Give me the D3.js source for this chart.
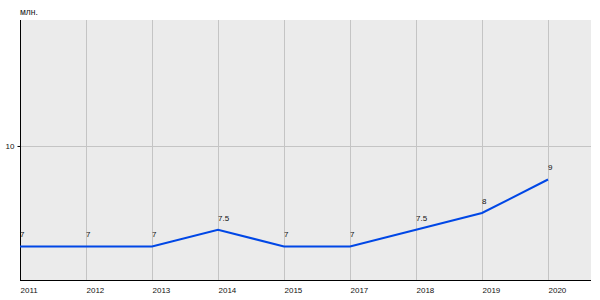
<!DOCTYPE html>
<html>
<head>
<meta charset="utf-8">
<script src="https://cdn.jsdelivr.net/npm/d3@7"></script>
<style>
  body { margin: 0; background: #fff; }
  svg { display: block; font-family: "Liberation Sans", Arial, sans-serif; }
</style>
</head>
<body>
<svg id="chart"></svg>
<script>
// chart data
const years = ['2011', '2012', '2013', '2014', '2015', '2017', '2018', '2019', '2020'];
const values = [7, 7, 7, 7.5, 7, 7, 7.5, 8, 9];
const valueLabels = ['7', '7', '7', '7.5', '7', '7', '7.5', '8', '9'];
const yTicks = [10];
const unitLabel = 'млн.';

const width = 600;
const height = 300;
const plot = { left: 20, right: 591, top: 20, bottom: 280 };
const textColor = '#111';

const svg = d3.select('#chart')
  .attr('width', width)
  .attr('height', height);

// x: points every 66px starting at left edge
const xScale = d3.scalePoint()
  .domain(years)
  .range([plot.left, plot.left + 66 * (years.length - 1)]);

const yScale = d3.scaleLinear()
  .domain([6, 13.76])
  .range([plot.bottom, plot.top]);

// background
svg.append('rect')
  .attr('x', plot.left)
  .attr('y', plot.top)
  .attr('width', plot.right - plot.left)
  .attr('height', plot.bottom - plot.top)
  .attr('fill', '#ebebeb');

// vertical grid
svg.append('g')
  .selectAll('line')
  .data(years.slice(1))
  .join('line')
  .attr('x1', (d) => Math.round(xScale(d)) + 0.5)
  .attr('x2', (d) => Math.round(xScale(d)) + 0.5)
  .attr('y1', plot.top)
  .attr('y2', plot.bottom)
  .attr('stroke', '#c4c4c4')
  .attr('stroke-width', 1);

// horizontal grid
svg.append('g')
  .selectAll('line')
  .data(yTicks)
  .join('line')
  .attr('x1', plot.left)
  .attr('x2', plot.right)
  .attr('y1', (d) => Math.round(yScale(d)) + 0.5)
  .attr('y2', (d) => Math.round(yScale(d)) + 0.5)
  .attr('stroke', '#c4c4c4')
  .attr('stroke-width', 1);

// y axis
const yAxis = d3.axisLeft(yScale)
  .tickValues(yTicks)
  .tickSize(3)
  .tickPadding(3);

const yAxisG = svg.append('g')
  .attr('transform', `translate(${plot.left + 0.5},0)`)
  .call(yAxis);
yAxisG.select('.domain')
  .attr('d', `M0,${plot.top}V${plot.bottom}`)
  .attr('stroke', '#000');
yAxisG.selectAll('.tick line').attr('stroke', '#000');
yAxisG.selectAll('.tick text')
  .attr('font-size', 8)
  .attr('font-family', '"Liberation Sans", Arial, sans-serif')
  .attr('fill', textColor);

// x axis
const xAxis = d3.axisBottom(xScale)
  .tickSize(0)
  .tickPadding(0);

const xAxisG = svg.append('g')
  .attr('transform', `translate(0,${plot.bottom + 0.5})`)
  .call(xAxis);
xAxisG.select('.domain')
  .attr('d', `M${plot.left},0H${plot.right}`)
  .attr('stroke', '#000');
xAxisG.selectAll('.tick text')
  .attr('text-anchor', 'start')
  .attr('dy', null)
  .attr('y', 12)
  .attr('font-size', 8)
  .attr('font-family', '"Liberation Sans", Arial, sans-serif')
  .attr('fill', textColor);

// unit label
svg.append('text')
  .attr('x', plot.left)
  .attr('y', 15)
  .attr('font-size', 8.5)
  .attr('fill', textColor)
  .text(unitLabel);

const data = years.map((y, i) => ({ year: y, value: values[i], label: valueLabels[i] }));

// line
const line = d3.line()
  .x((d) => xScale(d.year))
  .y((d) => yScale(d.value));

svg.append('path')
  .datum(data)
  .attr('d', line)
  .attr('fill', 'none')
  .attr('stroke', '#0047e6')
  .attr('stroke-width', 2);

// value labels
svg.append('g')
  .selectAll('text')
  .data(data)
  .join('text')
  .attr('x', (d) => xScale(d.year))
  .attr('y', (d) => yScale(d.value) - 9)
  .attr('font-size', 8)
  .attr('fill', textColor)
  .text((d) => d.label);
</script>
</body>
</html>
